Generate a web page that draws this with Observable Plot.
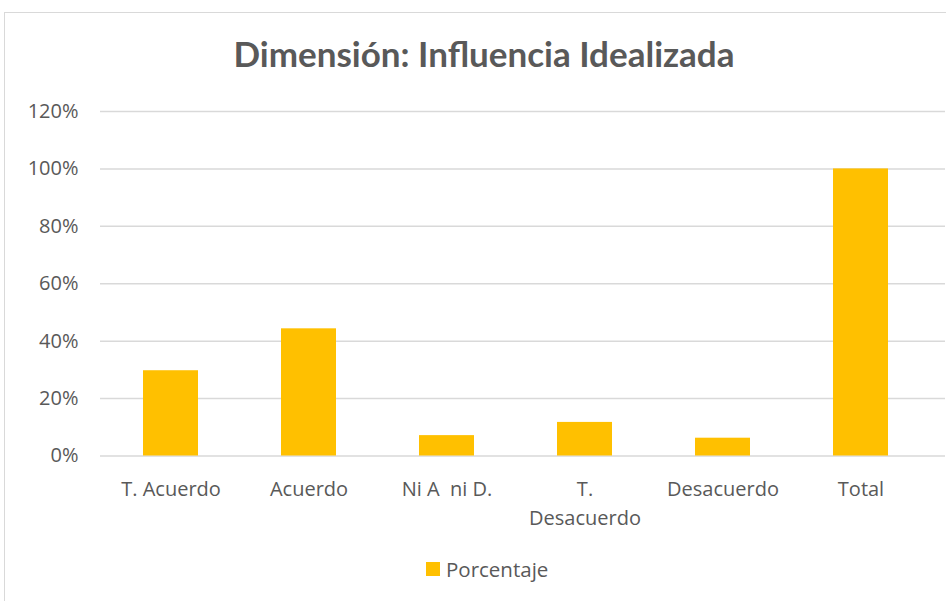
<!DOCTYPE html>
<html>
<head>
<meta charset="utf-8">
<script src="https://cdn.jsdelivr.net/npm/d3@7"></script>
<script src="https://cdn.jsdelivr.net/npm/@observablehq/plot@0.6"></script>
<style>
  html, body { margin: 0; padding: 0; background: #fff; }
  #wrap { position: relative; width: 946px; height: 601px; overflow: hidden; font-family: "Open Sans", sans-serif; }
  #frame { position: absolute; left: 4px; top: 12px; width: 1000px; height: 700px; border: 1.5px solid #d9d9d9; box-sizing: border-box; }
  #title { position: absolute; left: 0; width: 968px; top: 32px; text-align: center; font-family: Lato, sans-serif; font-size: 35px; font-weight: bold; color: #595959; line-height: 42px; }
  #chart { position: absolute; left: 0; top: 90px; }
  #legend { position: absolute; left: 426px; top: 555px; font-size: 20.5px; color: #595959; display: flex; align-items: center; }
  #legend .sw { width: 14px; height: 14px; background: #ffc000; margin-right: 6px; }
</style>
</head>
<body>
<div id="wrap">
  <div id="frame"></div>
  <div id="title">Dimensión: Influencia Idealizada</div>
  <div id="chart"></div>
  <div id="legend"><span class="sw"></span><span>Porcentaje</span></div>
</div>
<script>
const categories = ["T. Acuerdo", "Acuerdo", "Ni A  ni D.", "T. Desacuerdo", "Desacuerdo", "Total"];
const values = [0.297, 0.443, 0.071, 0.117, 0.062, 1.0];
const yTicks = [0, 0.2, 0.4, 0.6, 0.8, 1.0, 1.2];
const seriesName = "Porcentaje";

const data = categories.map((c, i) => ({ category: c, value: values[i] }));

const chart = Plot.plot({
  width: 946,
  height: 440,
  marginLeft: 100,
  marginRight: 1,
  marginTop: 21,
  marginBottom: 74.5,
  style: { fontFamily: "\"Open Sans\", sans-serif", fontSize: "20px", color: "#595959", background: "transparent" },
  x: { domain: categories, range: [101, 930], paddingInner: 0.6, paddingOuter: 0.3, label: null },
  y: { domain: [0, 1.2], label: null },
  marks: [
    Plot.gridY(yTicks, { stroke: "#d9d9d9", strokeOpacity: 1, strokeWidth: 1.5 }),
    Plot.barY(data, { x: "category", y: "value", fill: "#ffc000" }),
    Plot.axisY(yTicks, { tickSize: 0, tickPadding: 22, tickFormat: d => Math.round(d * 100) + "%", fill: "#595959", fontSize: 20 }),
    Plot.axisX({ tickSize: 0, tickPadding: 19, fill: "#595959", fontSize: 20, lineHeight: 1.45,
      tickFormat: d => d === "T. Desacuerdo" ? "T.\nDesacuerdo" : d })
  ]
});
document.getElementById("chart").appendChild(chart);
</script>
</body>
</html>
